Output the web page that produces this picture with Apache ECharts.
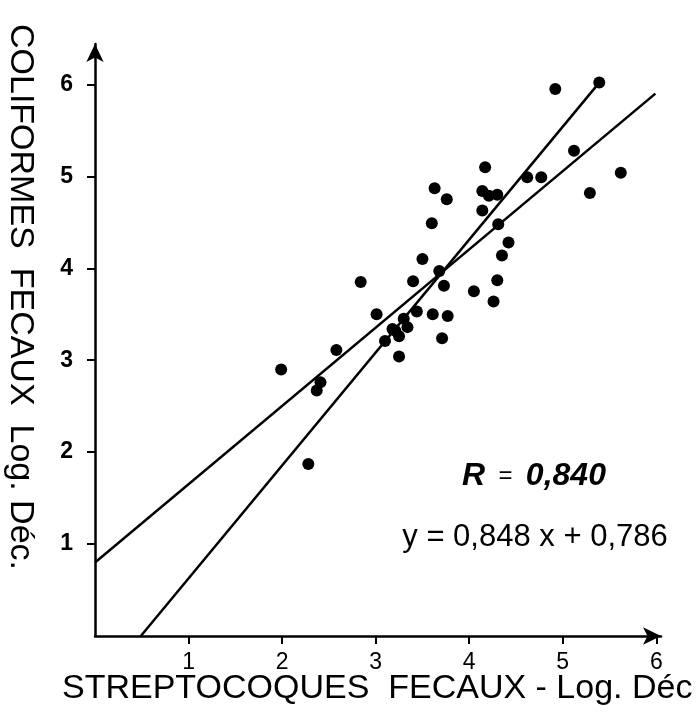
<!DOCTYPE html>
<html>
<head>
<meta charset="utf-8">
<script src="https://cdn.jsdelivr.net/npm/echarts@6/dist/echarts.min.js"></script>
<style>
html,body{margin:0;padding:0;background:#fff;}
#chart{width:697px;height:718px;}
</style>
</head>
<body>
<div id="chart"></div>
<script>
// Streptocoques fécaux (x, log) vs coliformes fécaux (y, log)
const strepX = [1.99, 2.41, 2.37, 2.28, 2.58, 2.84, 3.01, 3.10, 3.18, 3.21, 3.25, 3.25, 3.30, 3.34, 3.40,
  3.44, 3.50, 3.61, 3.71, 3.77, 3.68, 3.73, 3.60, 3.63, 3.76, 4.05, 4.26, 4.30, 4.35, 4.42,
  4.14, 4.14, 4.21, 4.30, 4.17, 4.31, 4.62, 4.77, 5.12, 5.29, 5.62, 4.92, 5.39];
const colifY = [2.90, 2.76, 2.67, 1.87, 3.11, 3.85, 3.50, 3.21, 3.34, 3.32, 3.26, 3.04, 3.45, 3.36, 3.86,
  3.53, 4.10, 3.50, 3.24, 3.48, 3.97, 3.81, 4.49, 4.87, 4.75, 3.75, 3.64, 3.87, 4.14, 4.28,
  4.63, 4.84, 4.79, 4.80, 5.10, 4.48, 4.99, 4.99, 5.28, 4.82, 5.04, 5.95, 6.02];
// regression lines (endpoints)
const regLine1 = [[0, 0.80], [5.99, 5.90]];   // y = 0,848 x + 0,786
const regLine2 = [[0.49, 0], [5.39, 6.02]];
const tickLabels = ['1', '2', '3', '4', '5', '6'];
const xTitle = 'STREPTOCOQUES  FECAUX - Log. Déc';
const yTitle = 'COLIFORMES  FECAUX  Log. Déc.';
const rLabel = '0,840';
const eqLabel = 'y = 0,848 x + 0,786';

const points = strepX.map((x, i) => [x, colifY[i]]);
const FONT = '"Liberation Sans", Arial, Helvetica, sans-serif';
const labelFmt = v => (tickLabels.indexOf(String(v)) >= 0 ? '{t|' + v + '}' : '');

const chart = echarts.init(document.getElementById('chart'));
chart.setOption({
  animation: false,
  backgroundColor: '#ffffff',
  grid: { left: 95, right: 36, top: 44, bottom: 82, containLabel: false },
  xAxis: {
    type: 'value', min: 0, max: 6.05, interval: 1,
    axisLine: { show: true, lineStyle: { color: '#000', width: 2.5 }, symbol: ['none', 'arrow'], symbolSize: [13, 18] },
    axisTick: { show: true, length: 8, lineStyle: { color: '#000', width: 2 } },
    axisLabel: { color: '#000', fontSize: 23, fontFamily: FONT, margin: 14, formatter: labelFmt, showMinLabel: false, showMaxLabel: false,
      rich: { t: { color: '#000', fontSize: 23, fontFamily: FONT, lineHeight: 26 } } },
    splitLine: { show: false }
  },
  yAxis: {
    type: 'value', min: 0, max: 6.44, interval: 1,
    axisLine: { show: true, lineStyle: { color: '#000', width: 2.5 }, symbol: ['none', 'arrow'], symbolSize: [13, 18] },
    axisTick: { show: true, length: 8, lineStyle: { color: '#000', width: 2 } },
    axisLabel: { color: '#000', fontSize: 23, fontWeight: 'bold', fontFamily: FONT, margin: 22, formatter: labelFmt, showMinLabel: false, showMaxLabel: false,
      rich: { t: { color: '#000', fontSize: 23, fontWeight: 'bold', fontFamily: FONT, lineHeight: 26 } } },
    splitLine: { show: false }
  },
  series: [
    { type: 'line', data: regLine1, symbol: 'none', lineStyle: { color: '#000', width: 2.5 }, z: 3 },
    { type: 'line', data: regLine2, symbol: 'none', lineStyle: { color: '#000', width: 2.5 }, z: 3 },
    { type: 'scatter', data: points, symbol: 'circle', symbolSize: 12, itemStyle: { color: '#000', opacity: 1 }, z: 4 }
  ],
  graphic: [
    { type: 'text', left: 62, top: 672, style: { text: xTitle, fill: '#000', font: '34px ' + FONT } },
    { type: 'text', x: 20, y: 297, rotation: -Math.PI / 2,
      style: { text: yTitle, fill: '#000', font: '34px ' + FONT, align: 'center', verticalAlign: 'middle' } },
    { type: 'text', x: 534, y: 476,
      style: { text: '{b|R}{n|  =  }{b|' + rLabel + '}', align: 'center', verticalAlign: 'middle',
        rich: { b: { fill: '#000', font: 'italic bold 32px ' + FONT }, n: { fill: '#000', font: '24px ' + FONT } } } },
    { type: 'text', x: 535, y: 537,
      style: { text: eqLabel, fill: '#000', font: '31px ' + FONT, align: 'center', verticalAlign: 'middle' } }
  ]
});
</script>
</body>
</html>
